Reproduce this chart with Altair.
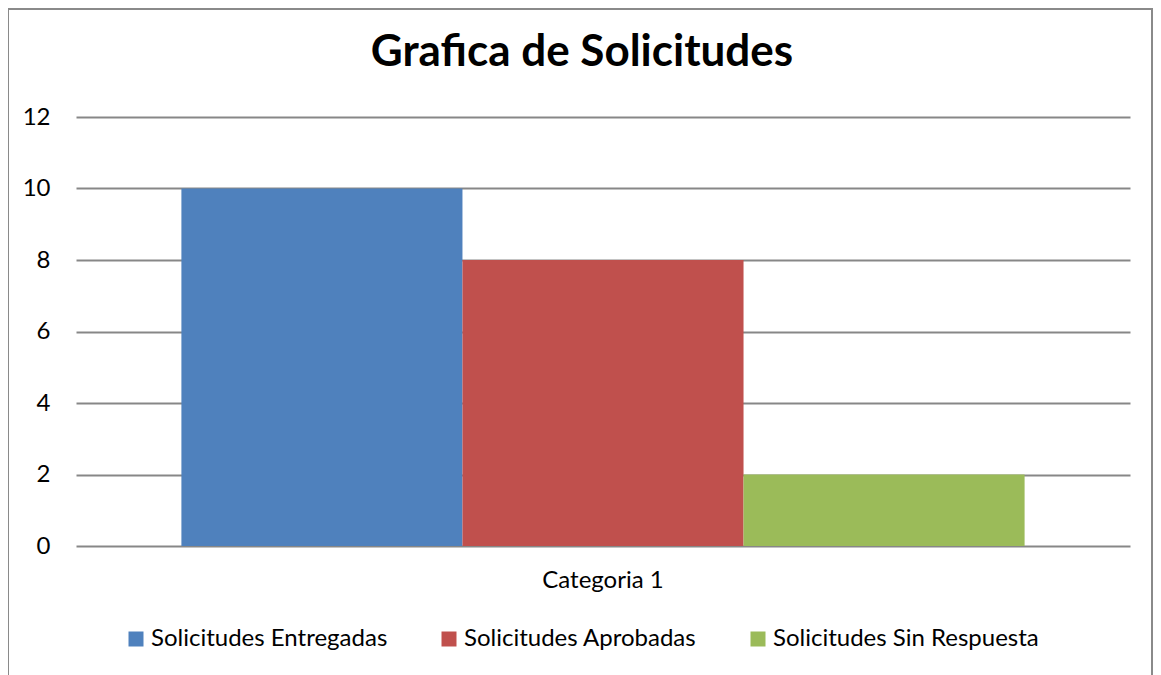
import altair as alt
import pandas as pd

categories = ["Categoria 1"]
series = ["Solicitudes Entregadas", "Solicitudes Aprobadas", "Solicitudes Sin Respuesta"]
values = [10, 8, 2]
colors = ["#4F81BD", "#C0504D", "#9BBB59"]
y_ticks = [0, 2, 4, 6, 8, 10, 12]

df = pd.DataFrame({
    "categoria": [categories[0]] * len(series),
    "serie": series,
    "valor": values,
})

FONT = "Lato"
W, H = 1054, 429

bars = alt.Chart(df).mark_bar().encode(
    x=alt.X("categoria:N", title=None,
            scale=alt.Scale(paddingInner=0.2, paddingOuter=0.1),
            axis=alt.Axis(labelAngle=0, ticks=False, domain=False,
                          labelFontSize=24, labelPadding=22, labelColor="#000000",
                          labelFont=FONT)),
    xOffset=alt.XOffset("serie:N", sort=series,
                        scale=alt.Scale(paddingInner=0, paddingOuter=0)),
    y=alt.Y("valor:Q", title=None,
            scale=alt.Scale(domain=[0, 12], nice=False),
            axis=alt.Axis(values=y_ticks, ticks=False, domain=False,
                          grid=True, gridColor="#878787", gridWidth=2,
                          labelFontSize=24, labelPadding=26, labelColor="#000000",
                          labelFont=FONT)),
    color=alt.Color("serie:N", sort=series,
                    scale=alt.Scale(domain=series, range=colors),
                    legend=alt.Legend(title=None, orient="none", direction="horizontal",
                                      legendX=48, legendY=510,
                                      symbolType="square", symbolSize=225,
                                      symbolStrokeWidth=0, labelFontSize=24,
                                      labelFont=FONT, labelColor="#000000",
                                      labelLimit=400,
                                      columnPadding=49, labelOffset=3)),
)

frame = alt.Chart(pd.DataFrame({"f": [0]})).mark_rect(
    fill=None, stroke="#8a8a8a", strokeWidth=2
).encode(
    x=alt.value(-68), x2=alt.value(1076),
    y=alt.value(-108), y2=alt.value(600),
)

chart = alt.layer(bars, frame).properties(
    width=W, height=H,
    title=alt.TitleParams("Grafica de Solicitudes", fontSize=44, font=FONT,
                          fontWeight="bold", color="#000000", dx=-21, dy=102,
                          offset=0, baseline="alphabetic"),
    autosize=alt.AutoSizeParams(type="none"),
    padding={"left": 68, "top": 109, "right": 23, "bottom": 129},
).configure_view(stroke=None)

chart.save("out.html", embed_options={"renderer": "svg", "actions": False})
